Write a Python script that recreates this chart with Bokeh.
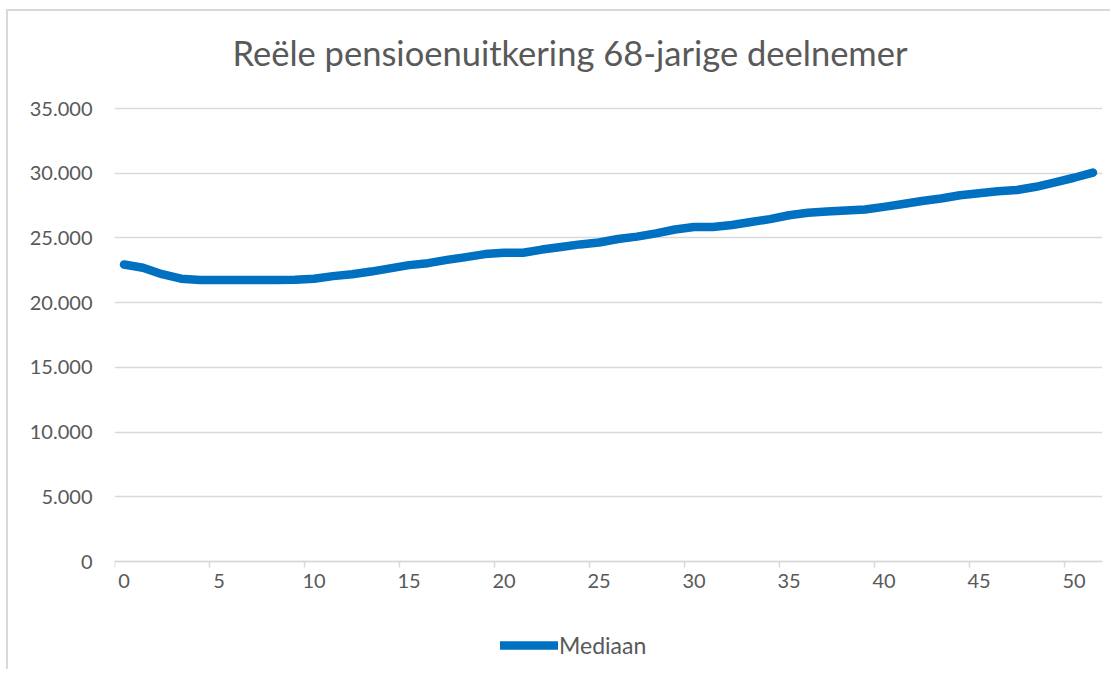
from bokeh.plotting import figure
from bokeh.models import Range1d, FixedTicker, Legend, LegendItem, Title
from bokeh.embed import file_html
from bokeh.resources import INLINE

# ---- data ----
title_text = "Reële pensioenuitkering  68-jarige deelnemer"
series_name = "Mediaan"
years = list(range(0, 52))
mediaan = [22950, 22700, 22200, 21850, 21750, 21750, 21750, 21750, 21750, 21760,
           21850, 22050, 22200, 22400, 22650, 22900, 23050, 23300, 23520, 23750,
           23850, 23850, 24100, 24300, 24500, 24650, 24920, 25100, 25350, 25650,
           25850, 25850, 26000, 26230, 26450, 26750, 26950, 27050, 27120, 27200,
           27400, 27620, 27850, 28050, 28300, 28450, 28600, 28700, 28950, 29300,
           29650, 30050]
x_ticks = [0, 5, 10, 15, 20, 25, 30, 35, 40, 45, 50]
y_ticks = [0, 5000, 10000, 15000, 20000, 25000, 30000, 35000]
y_tick_labels = ["0", "5.000", "10.000", "15.000", "20.000", "25.000", "30.000", "35.000"]

FONT = "Lato"
GREY = "#595959"
GRID = "#d9d9d9"
BLUE = "#0070C0"

# The (outline-less) plot area is extended above the 35.000 gridline and below
# the 0 line so that the title and the legend sit in the right places.
PX_PER_UNIT = 453 / 35000.0
y_top = 35000 + 28 / PX_PER_UNIT
y_bottom = -107 / PX_PER_UNIT

p = figure(width=1104, height=660, output_backend="svg", toolbar_location=None,
           x_range=Range1d(-0.5, 51.5), y_range=Range1d(y_bottom, y_top),
           min_border_left=106, min_border_right=10, min_border_top=69, min_border_bottom=3)
p.styles = {"margin-left": "6px", "margin-top": "9px",
            "border-left": "2px solid #d9d9d9", "border-top": "2px solid #d9d9d9"}
p.outline_line_color = None
p.background_fill_color = "white"
p.border_fill_color = "white"

t = Title(text=title_text, align="left", text_font=FONT, text_font_size="34.5px",
          text_color=GREY, text_font_style="normal", standoff=15, offset=118)
p.add_layout(t, "above")

# y axis
ya = p.yaxis[0]
ya.ticker = FixedTicker(ticks=y_ticks, minor_ticks=[])
ya.major_label_overrides = {v: s for v, s in zip(y_ticks, y_tick_labels)}
ya.axis_line_color = None
ya.major_tick_line_color = None
ya.minor_tick_line_color = None
ya.major_tick_out = 0
ya.major_label_standoff = 22
ya.major_label_text_font = FONT
ya.major_label_text_font_size = "20px"
ya.major_label_text_color = GREY

# x axis at value 0: labels at category centres, tick marks between categories
xa = p.xaxis[0]
xa.fixed_location = 0
xa.ticker = FixedTicker(ticks=x_ticks, minor_ticks=[v - 0.5 for v in x_ticks])
xa.axis_line_color = GRID
xa.axis_line_width = 1.5
xa.major_tick_line_color = None
xa.major_tick_out = 0
xa.major_tick_in = 0
xa.minor_tick_line_color = GRID
xa.minor_tick_line_width = 1.5
xa.minor_tick_out = 6
xa.minor_tick_in = 0
xa.major_label_standoff = 6
xa.major_label_text_font = FONT
xa.major_label_text_font_size = "20px"
xa.major_label_text_color = GREY

p.xgrid.grid_line_color = None
p.ygrid.ticker = FixedTicker(ticks=y_ticks)
p.ygrid.grid_line_color = GRID
p.ygrid.grid_line_width = 1.5

r = p.line(years, mediaan, line_width=8.5, color=BLUE, line_cap="round", line_join="round")

legend = Legend(items=[LegendItem(label=series_name, renderers=[r])],
                location=(386, 9), orientation="horizontal",
                glyph_width=58, glyph_height=28, label_standoff=1,
                label_text_font=FONT, label_text_font_size="23px", label_text_color=GREY,
                padding=0, margin=0, spacing=0, border_line_color=None,
                background_fill_alpha=0)
p.add_layout(legend, "center")

open("out.html", "w").write(file_html(p, INLINE))
